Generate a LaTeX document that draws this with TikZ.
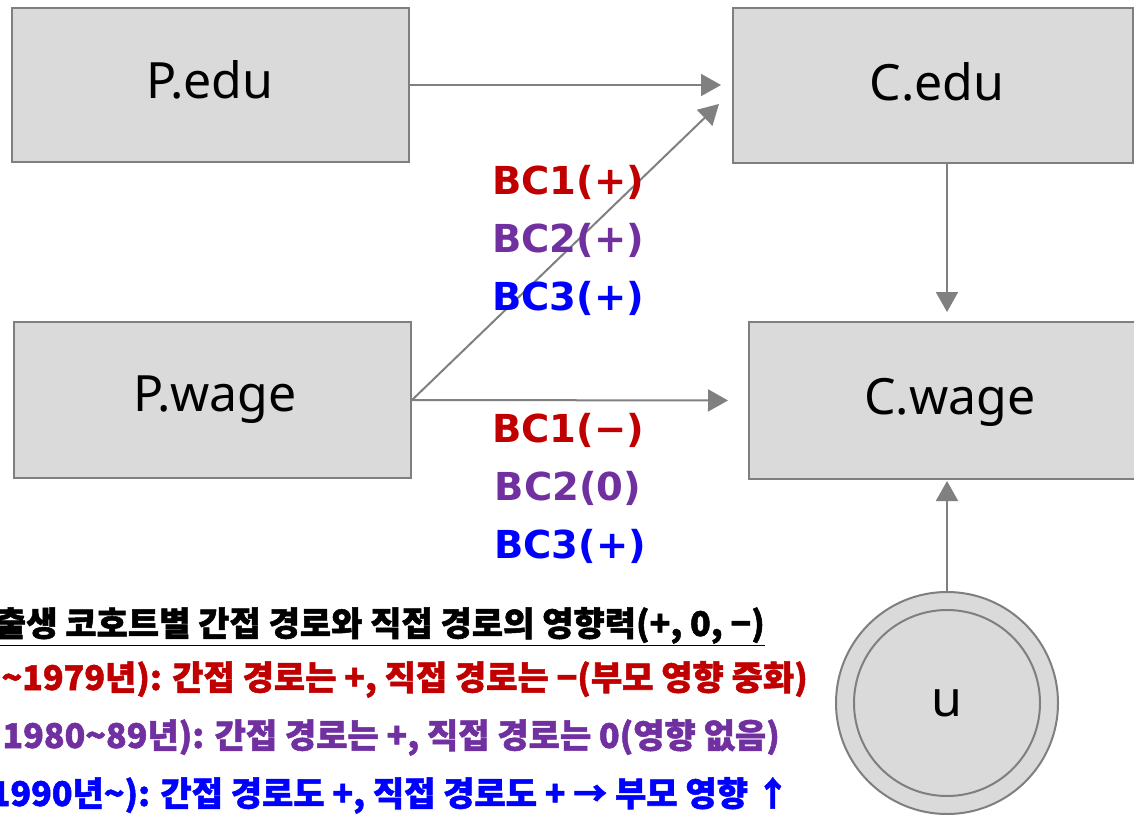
\documentclass[tikz,border=0pt]{standalone}
\usepackage{fontspec}
\setmainfont{Noto Sans}
\newfontfamily\bcfont{DejaVu Sans}
\newfontfamily\krfont[BoldFeatures={FakeBold=1.5}]{Noto Sans CJK KR}
\usetikzlibrary{arrows.meta}
\definecolor{boxfill}{HTML}{DADADA}
\definecolor{boxline}{HTML}{7F7F7F}
\definecolor{arrgray}{HTML}{808080}
\definecolor{cred}{HTML}{C00000}
\definecolor{cpurple}{HTML}{7030A0}
\definecolor{cblue}{HTML}{0000FF}
\tikzset{
  varbox/.style={draw=boxline, fill=boxfill, line width=2pt, inner sep=0pt},
  vartext/.style={font=\fontsize{50}{56}\selectfont, inner sep=0pt},
  conn/.style={draw=arrgray, line width=2pt,
    -{Triangle[length=20pt,width=22pt]}},
  bclabel/.style={font=\bcfont\bfseries\fontsize{38.5}{42}\selectfont, inner sep=0pt},
  krline/.style={font=\krfont\bfseries\fontsize{34}{38}\selectfont, inner sep=0pt, anchor=base east},
}
\begin{document}
\begin{tikzpicture}[x=1pt,y=-1pt]
\useasboundingbox (0,0) rectangle (1134,816);
\clip (0,0) rectangle (1134,816);
\fill[white] (0,0) rectangle (1134,816);
% boxes
\node[varbox, minimum width=397pt, minimum height=154pt] (pedu) at (210.5,85) {};
\node[varbox, minimum width=400pt, minimum height=155pt] (cedu) at (933,85.5) {};
\node[varbox, minimum width=397pt, minimum height=156pt] (pwage) at (212.5,400) {};
\node[varbox, minimum width=401pt, minimum height=157pt] (cwage) at (949.5,400.5) {};
\node[vartext] (tpedu) at (210,80) {P.edu};
\node[vartext] (tcedu) at (937,82) {C.edu};
\node[vartext] (tpwage) at (215,400) {P.wage};
\node[vartext] (tcwage) at (950,402) {C.wage};
% error term
\node[circle, draw=boxline, fill=boxfill, line width=2pt, minimum size=222pt, inner sep=0pt] (u) at (947,703) {};
\node[circle, draw=boxline, line width=2pt, minimum size=186pt, inner sep=0pt] (uin) at (947,703) {};
\node[vartext] (tu) at (947,703) {u};
% connectors
\coordinate (dtip) at (719,104);
\draw[conn, shorten >=11pt] (pedu.east) -- (pedu.east -| cedu.west);
\draw[conn] (pwage.east) -- (dtip);
\draw[conn, shorten >=20pt] (pwage.east) -- (cwage.west);
\draw[conn, shorten >=9pt] (cedu.south -| u.center) -- (cwage.north -| u.center);
\draw[conn, shorten >=1pt] (u.north) -- (cwage.south -| u.center);
% path labels
\node[bclabel, text=cred] (l1) at (568,182) {BC1(+)};
\node[bclabel, text=cpurple] (l2) at (568,240) {BC2(+)};
\node[bclabel, text=cblue] (l3) at (568,298) {BC3(+)};
\node[bclabel, text=cred] (l4) at (568,430) {BC1(−)};
\node[bclabel, text=cpurple] (l5) at (568,488) {BC2(0)};
\node[bclabel, text=cblue] (l6) at (570,546) {BC3(+)};
% legend lines
\node[krline, text=black] (k1) at (765,636) {\underline{출생 코호트별 간접 경로와 직접 경로의 영향력(+, 0, −)}};
\node[krline, text=cred] (k2) at (808,690) {\textasciitilde 1979년): 간접 경로는 +, 직접 경로는 −(부모 영향 중화)};
\node[krline, text=cpurple] (k3) at (780,748) {1980\textasciitilde 89년): 간접 경로는 +, 직접 경로는 0(영향 없음)};
\node[krline, text=cblue] (k4) at (790,806) {1990년\textasciitilde): 간접 경로도 +, 직접 경로도 + → 부모 영향 ↑};
\end{tikzpicture}
\end{document}
